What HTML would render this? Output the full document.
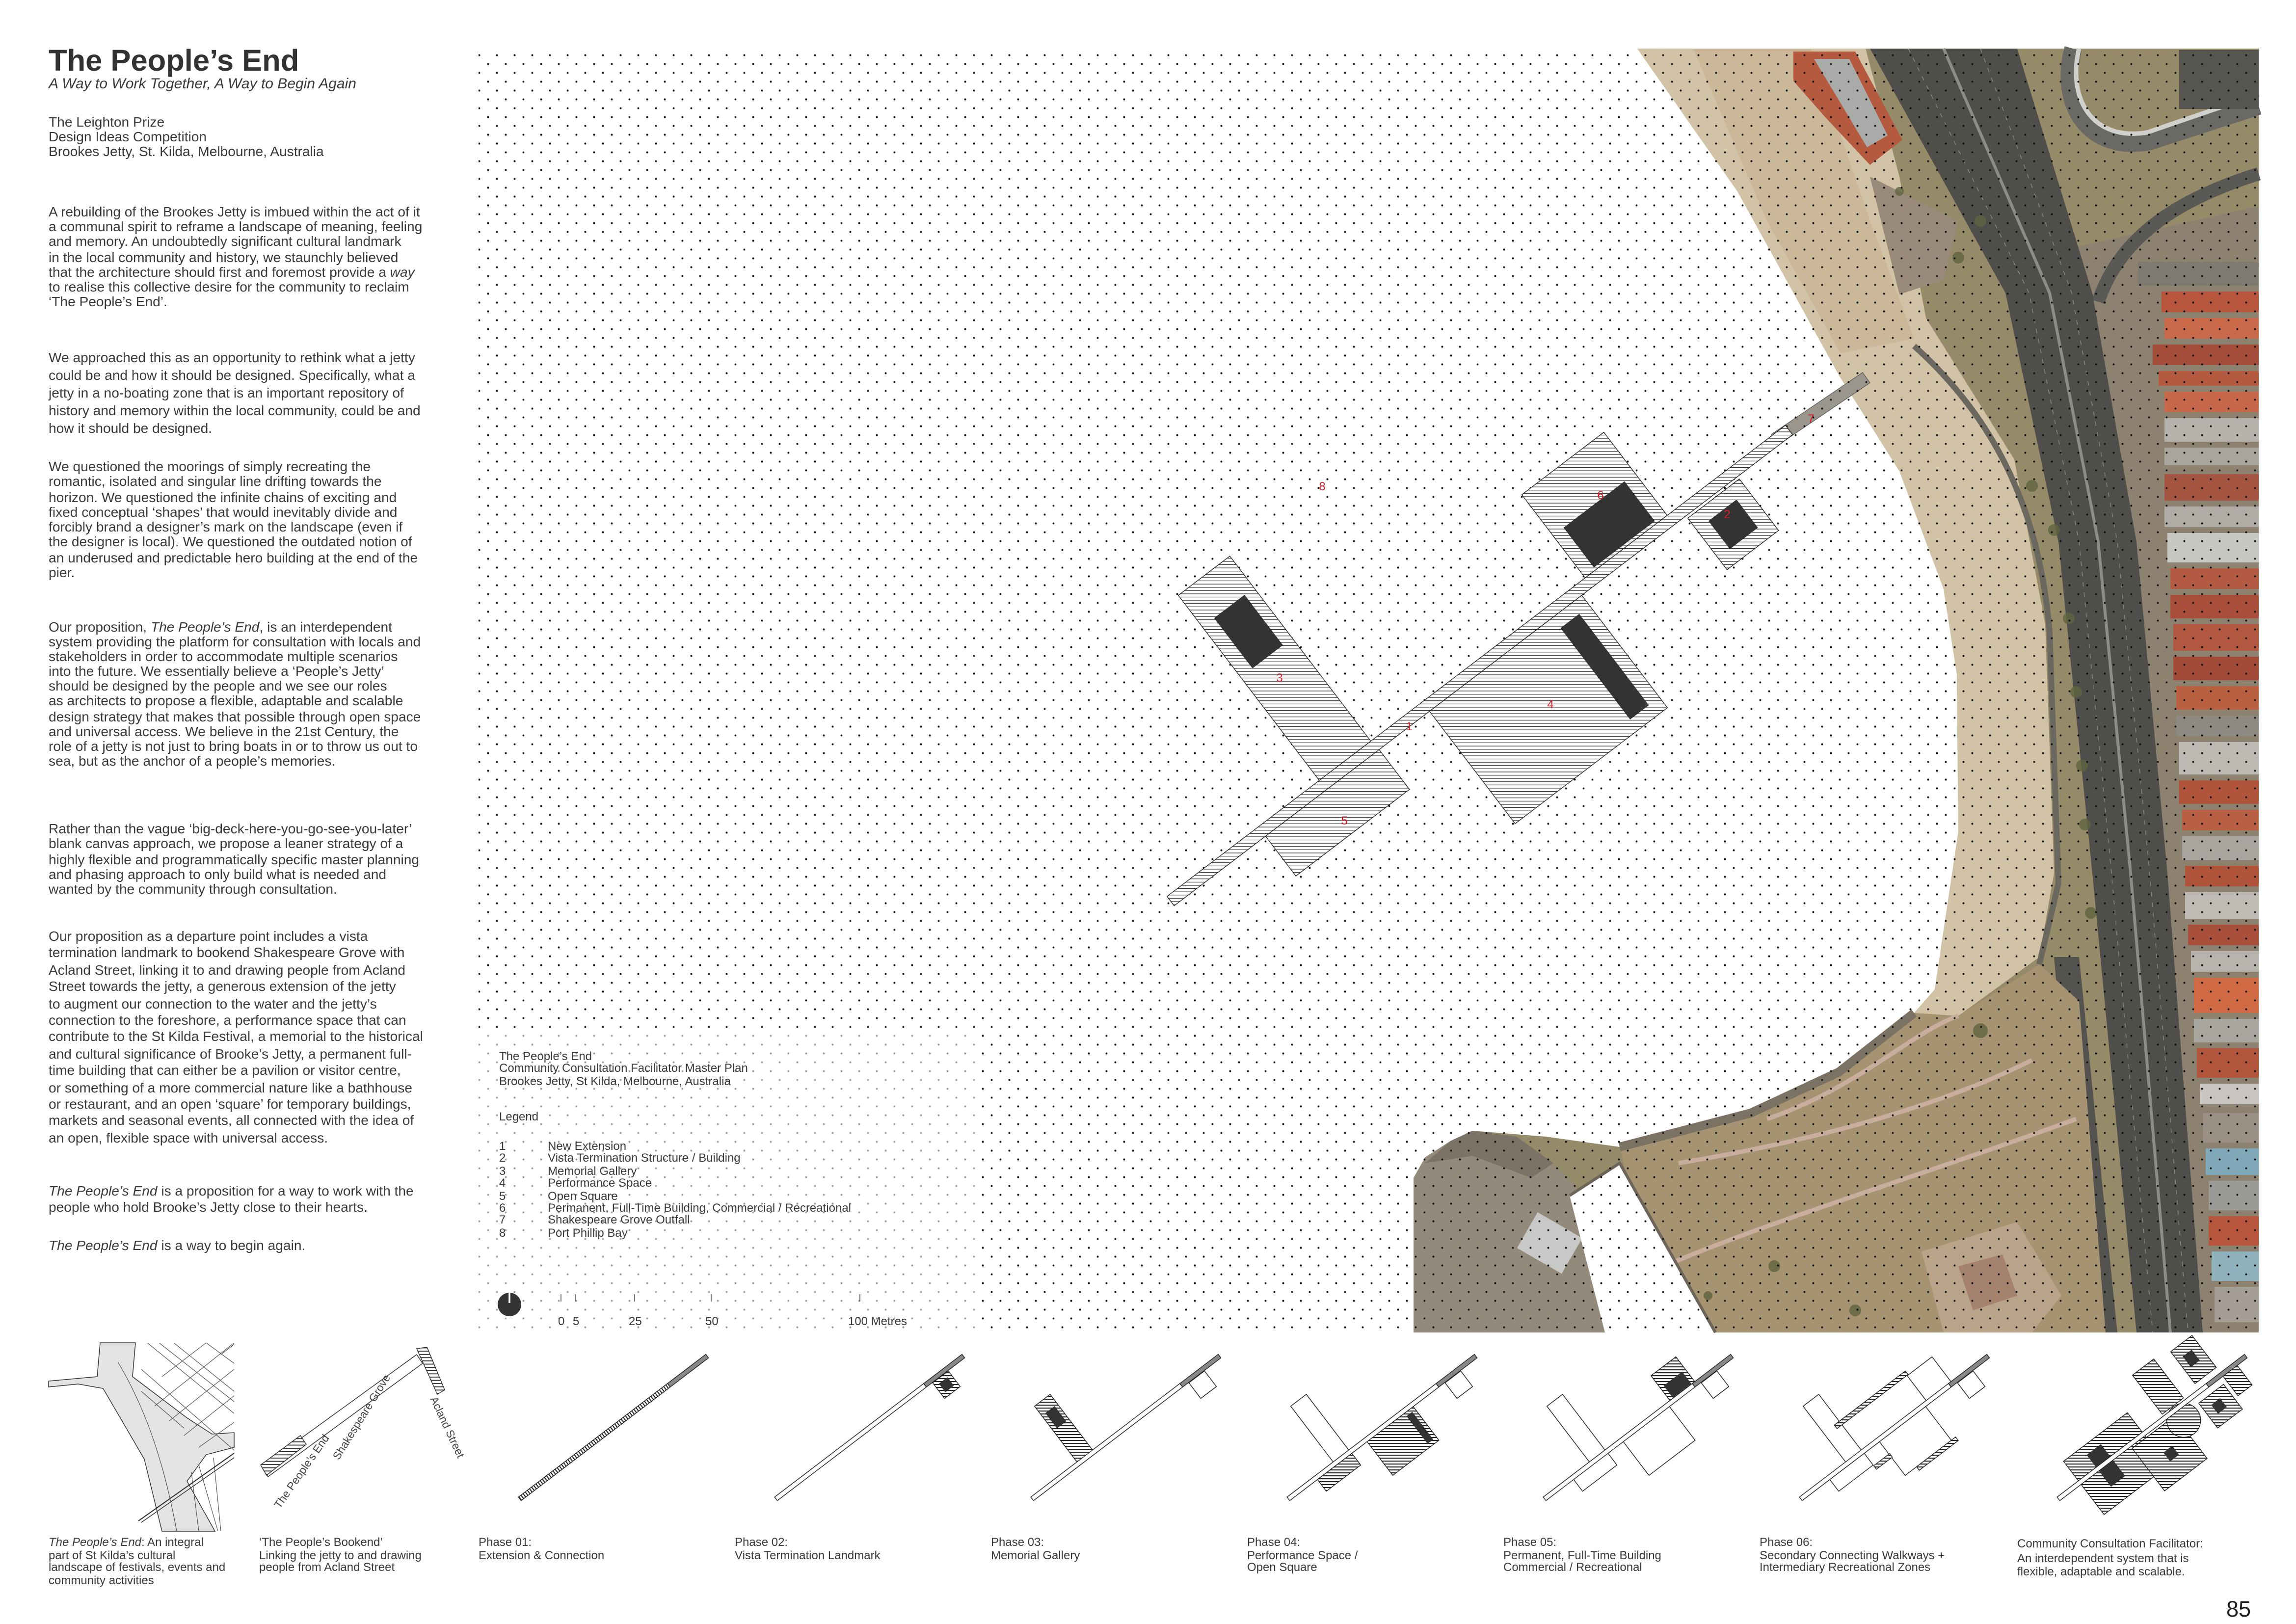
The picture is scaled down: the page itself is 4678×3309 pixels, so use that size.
<!DOCTYPE html>
<html><head><meta charset="utf-8">
<style>
html,body{margin:0;padding:0;background:#fff;}
body{width:4678px;height:3309px;overflow:hidden;}
#s{position:absolute;left:0;top:0;width:1559.33px;height:1103px;transform:scale(3);transform-origin:0 0;font-family:"Liberation Sans",Arial,sans-serif;color:#3a3a3a;}
#s svg{position:absolute;left:0;top:0;}
.t{position:absolute;white-space:nowrap;}
.p{position:absolute;left:33px;font-size:9.4px;white-space:nowrap;color:#3a3a3a;}
.cap{position:absolute;top:1044px;font-size:8px;line-height:8.7px;white-space:nowrap;color:#3a3a3a;}
.lg{position:absolute;font-size:8px;line-height:8.4px;white-space:nowrap;color:#3a3a3a;}
.mp .o{stroke:#222;stroke-width:.45;}
.ph .o{stroke:#222;stroke-width:1.6;}
.mp .hh{fill:url(#h);}
.ph .hh{fill:url(#h2);}
.w{fill:#fff;}
.d{fill:#333;}
</style></head><body>
<div id="s">
<svg width="1559.33" height="1103" viewBox="0 0 1559.33 1103">
<defs>
<pattern id="dots" patternUnits="userSpaceOnUse" width="12" height="12">
<circle cx="1.5" cy="1.5" r="0.65" fill="#111"/><circle cx="7.5" cy="7.5" r="0.65" fill="#111"/>
</pattern>
<pattern id="h" patternUnits="userSpaceOnUse" width="20" height="2.2" patternTransform="rotate(37.3)">
<rect width="20" height="2.2" fill="#fff"/><line x1="0" y1="0.3" x2="20" y2="0.3" stroke="#222" stroke-width="0.4"/>
</pattern>
<pattern id="h2" patternUnits="userSpaceOnUse" width="40" height="6.6" patternTransform="rotate(37.3)">
<rect width="40" height="6.6" fill="#fff"/><line x1="0" y1="1" x2="40" y2="1" stroke="#222" stroke-width="2.6"/>
</pattern>
<pattern id="vh" patternUnits="userSpaceOnUse" width="6" height="10">
<rect width="6" height="10" fill="#fff"/><line x1="1" y1="0" x2="1" y2="10" stroke="#222" stroke-width="2.6"/>
</pattern>
<pattern id="hs" patternUnits="userSpaceOnUse" width="10" height="2.2">
<rect width="10" height="2.2" fill="#fff"/><line x1="0" y1="0.3" x2="10" y2="0.3" stroke="#222" stroke-width="0.6"/>
</pattern>
</defs>

<rect x="325" y="33" width="1209" height="872" fill="#fff"/>

<!-- AERIAL -->
<polygon points="1112,33 1534,33 1534,905 960,905 960,800 968,786 985,775 1000,768 1050,772 1100,779 1189,756 1249,728 1300,688 1314,672 1330,565 1329,458 1320,400 1290,320 1249,255 1180,130" fill="#958b69"/>
<polygon points="1112,33 1267,33 1290,120 1308,216 1368,312 1389,424 1395,593 1385,650 1330,690 1300,688 1314,672 1330,565 1329,458 1320,400 1290,320 1249,255 1180,130" fill="#d3c3a6"/>
<polygon points="1150,33 1230,33 1270,150 1300,230 1250,240 1200,150" fill="#c4b08f" opacity="0.6"/>
<path d="M1300,235 C1350,280 1385,340 1392,430 L1398,600 L1385,655" stroke="#6b6860" stroke-width="4" fill="none"/>
<polygon points="1218,35 1260,35 1292,95 1270,112 1240,80 1218,55" fill="#b65a3f"/>
<polygon points="1232,40 1256,40 1282,92 1268,100" fill="#a9aba9"/>
<polygon points="1270,120 1330,150 1320,190 1290,200 1280,160" fill="#9a8a7a"/>
<polygon points="1400,170 1534,140 1534,905 1496,905" fill="#8d8270"/>
<g>
<rect x="1452" y="178" width="82" height="16" fill="#7f7a6f"/>
<rect x="1468" y="198" width="66" height="14" fill="#b8563d"/>
<rect x="1470" y="216" width="64" height="14" fill="#c96a4b"/>
<rect x="1462" y="234" width="72" height="14" fill="#a44d3a"/>
<rect x="1466" y="252" width="68" height="10" fill="#b45a40"/>
<rect x="1470" y="266" width="64" height="14" fill="#c8684a"/>
<rect x="1470" y="284" width="64" height="16" fill="#b6b2ac"/>
<rect x="1470" y="304" width="64" height="12" fill="#a9a49c"/>
<rect x="1470" y="322" width="64" height="18" fill="#a45541"/>
<rect x="1470" y="344" width="64" height="14" fill="#b0aca5"/>
<rect x="1472" y="362" width="62" height="20" fill="#c9c7c2"/>
<rect x="1474" y="386" width="60" height="14" fill="#b35b42"/>
<rect x="1474" y="404" width="60" height="16" fill="#a84e3a"/>
<rect x="1476" y="424" width="58" height="18" fill="#b25840"/>
<rect x="1476" y="446" width="58" height="16" fill="#a14b38"/>
<rect x="1478" y="466" width="56" height="16" fill="#b8603f"/>
<rect x="1478" y="486" width="56" height="14" fill="#8e8a82"/>
<rect x="1480" y="504" width="54" height="22" fill="#bdbab4"/>
<rect x="1480" y="530" width="54" height="16" fill="#b0553c"/>
<rect x="1482" y="550" width="52" height="14" fill="#b95f44"/>
<rect x="1482" y="568" width="52" height="16" fill="#aaa69f"/>
<rect x="1484" y="588" width="50" height="14" fill="#b0553c"/>
<rect x="1484" y="606" width="50" height="18" fill="#c0bcb5"/>
<rect x="1486" y="628" width="48" height="14" fill="#a9503c"/>
<rect x="1488" y="646" width="46" height="14" fill="#b7b3ad"/>
<rect x="1490" y="664" width="44" height="24" fill="#d06a45"/>
<rect x="1490" y="692" width="44" height="16" fill="#a9a59f"/>
<rect x="1492" y="712" width="42" height="20" fill="#b1553d"/>
<rect x="1494" y="736" width="40" height="14" fill="#c8c5c0"/>
<rect x="1496" y="756" width="38" height="20" fill="#9a9086"/>
<rect x="1498" y="780" width="36" height="18" fill="#7fa9b8"/>
<rect x="1500" y="802" width="34" height="20" fill="#9c9a96"/>
<rect x="1500" y="826" width="34" height="20" fill="#b8553d"/>
<rect x="1502" y="850" width="32" height="20" fill="#8fb2bd"/>
<rect x="1504" y="874" width="30" height="24" fill="#a49e95"/>
</g>
<path d="M1408,33 C1398,70 1418,104 1460,96 L1534,72" stroke="#6a6965" stroke-width="12" fill="none"/>
<path d="M1412,33 C1404,66 1420,96 1458,90 L1534,64" stroke="#d2d0cc" stroke-width="3" fill="none"/>
<path d="M1425,205 C1440,160 1480,135 1534,118" stroke="#5a5956" stroke-width="9" fill="none"/>
<rect x="1480" y="34" width="54" height="40" fill="#57554f"/>
<polygon points="1270,33 1370,33 1421,199 1451,368 1472,593 1496,905 1451,905 1421,593 1398,368 1362,199" fill="#4f4e4b"/>
<path d="M1320,33 L1392,199 L1425,368 L1447,593 L1474,905" stroke="#8e8c86" stroke-width="2" fill="none"/>
<path d="M1296,33 L1378,199 L1412,368 L1434,593 L1462,905 M1345,33 L1407,199 L1438,368 L1460,593 L1486,905" stroke="#888" stroke-width="0.5" stroke-dasharray="3 4" fill="none"/>
<polygon points="1395,650 1412,650 1438,905 1418,905" fill="#55534f"/>
<polygon points="1100,779 1189,756 1249,728 1300,688 1330,690 1385,655 1412,680 1430,905 1130,905" fill="#a59372"/>
<path d="M1200,760 C1260,740 1300,700 1330,690 M1140,790 C1200,780 1300,760 1380,720 M1130,860 C1200,830 1300,800 1410,760" stroke="#c9ad9d" stroke-width="3" fill="none"/>
<polygon points="1305,850 1370,830 1400,880 1380,905 1320,905" fill="#b9a48a"/>
<polygon points="1330,860 1360,852 1370,880 1340,890" fill="#a5826e"/>
<path d="M1100,779 L1189,756 L1249,728 L1300,688" stroke="#7b7264" stroke-width="6" fill="none"/>
<polygon points="960,905 960,800 968,786 985,775 1000,768 1030,772 1065,800 1100,840 1130,905" fill="#938a7b"/>
<polygon points="968,790 985,775 1000,768 1030,772 1055,790 1040,800 1000,785" fill="#7b7366"/>
<rect x="1035" y="830" width="35" height="28" fill="#c8c8c6" transform="rotate(30 1052 844)"/>
<polygon points="1066,812 1100,790 1165,905 1090,905" fill="#fff"/>
<path d="M1066,812 L1100,790 L1165,905" stroke="#6d655a" stroke-width="2" fill="none"/>
<g fill="#5f6440" opacity="0.8">
<circle cx="1380" cy="330" r="4"/><circle cx="1395" cy="360" r="4"/><circle cx="1405" cy="420" r="4"/><circle cx="1410" cy="470" r="4"/><circle cx="1414" cy="520" r="4"/><circle cx="1416" cy="560" r="4"/><circle cx="1420" cy="620" r="4"/><circle cx="1330" cy="175" r="4"/><circle cx="1345" cy="150" r="4"/><circle cx="1290" cy="130" r="3"/><circle cx="1205" cy="860" r="4"/><circle cx="1260" cy="890" r="4"/><circle cx="1160" cy="880" r="3"/><circle cx="1345" cy="700" r="5"/>
</g>
<polygon points="1203,295 1265,253 1270,260 1208,302" fill="#9b968c" stroke="#555" stroke-width="0.4"/>

<rect x="325" y="33" width="1209" height="872" fill="url(#dots)"/>
<!-- fade dots in legend area -->
<rect x="325" y="700" width="340" height="205" fill="#fff" opacity="0.6"/>

<!-- MAIN PLAN -->
<g class="mp" transform="translate(795,612) rotate(-37.3)">
<rect class="hh o" x="130" y="-162" width="44" height="158"/>
<rect class="d" x="140" y="-135" width="26" height="43"/>
<rect class="hh o" x="78" y="4" width="97" height="34"/>
<rect class="hh o" x="218" y="4" width="130" height="96"/>
<rect class="d" x="323" y="13" width="16" height="78"/>
<rect class="hh o" x="357" y="-75" width="70" height="71"/>
<rect class="d" x="366" y="-40" width="52" height="34"/>
<rect class="hh o" x="437" y="6" width="44" height="44"/>
<rect class="d" x="447" y="16" width="24" height="24"/>
<rect class="hh o" x="0" y="-4" width="528" height="8"/>
</g>
<g font-family="Liberation Sans,sans-serif" font-size="8" fill="#d0202a" text-anchor="middle">
<text x="957" y="496">1</text><text x="1173" y="352">2</text><text x="869" y="463">3</text><text x="1053" y="481">4</text><text x="913" y="560">5</text><text x="1087" y="339">6</text><text x="1230" y="287">7</text><text x="898" y="333">8</text>
</g>

<circle cx="346" cy="886" r="8" fill="#333"/>
<rect x="345.4" y="877" width="1.2" height="8" fill="#fff"/>
<g stroke="#444" stroke-width="0.5">
<line x1="381" y1="879" x2="381" y2="884"/><line x1="391" y1="879" x2="391" y2="884"/><line x1="431" y1="879" x2="431" y2="884"/><line x1="483" y1="879" x2="483" y2="884"/><line x1="584" y1="879" x2="584" y2="884"/>
</g>
<g font-family="Liberation Sans,sans-serif" font-size="8" fill="#3a3a3a">
<text x="379" y="900">0</text><text x="389" y="900">5</text><text x="427" y="900">25</text><text x="479" y="900">50</text><text x="576" y="900">100 Metres</text>
</g>

<!-- PANEL 1 -->
<g>
<polygon points="68,912 92,912 90,935 127,963 144,974 159,973 159,983 140,988 127,1006 146,1040 110,1040 98,991 70,943 53,940 33,942 33,938 66,935" fill="#e4e4e4" stroke="#333" stroke-width="0.5"/>
<g stroke="#555" stroke-width="0.4" fill="none">
<path d="M100,912 L159,960 M108,912 L159,952 M96,930 L159,985 M118,912 L159,945 M140,912 L159,926 M96,945 L125,970"/>
<path d="M110,935 L140,912 M105,955 L159,912 M115,965 L159,930 M125,975 L159,948 M135,983 L159,966 M150,920 L159,913"/>
<path d="M130,1000 L135,1040 M135,995 L148,1040 M145,990 L150,1040"/>
<path d="M80,925 C95,950 110,985 120,1040"/>
</g>
<line x1="94" y1="1033" x2="159" y2="987" stroke="#333" stroke-width="0.7"/>
<line x1="96" y1="1034" x2="159" y2="990" stroke="#333" stroke-width="0.5"/>
</g>
<!-- PANEL 2 -->
<g>
<polygon points="178,996 283,920 287,926 182,1003" fill="#fff" stroke="#333" stroke-width="0.5"/>
<polygon points="177,995 204,975 208,981 181,1002" fill="url(#hs)" stroke="#333" stroke-width="0.5"/>
<polygon points="283,916 290,915 302,944 297,947" fill="url(#hs)" stroke="#333" stroke-width="0.5"/>
<text x="0" y="0" font-size="7.5" fill="#444" transform="translate(190,1025) rotate(-55)">The People’s End</text>
<text x="0" y="0" font-size="7.5" fill="#444" transform="translate(230,992) rotate(-58)">Shakespeare Grove</text>
<text x="0" y="0" font-size="7.5" fill="#444" transform="translate(292,950) rotate(65)">Acland Street</text>
</g>

<!-- PHASES -->
<g class="ph" transform="translate(353,1018) scale(0.303) rotate(-37.3)">
<rect x="0" y="-5" width="420" height="10" fill="url(#vh)" stroke="#222" stroke-width="1.6"/>
<rect class="o" x="420" y="-5" width="108" height="10" fill="#888"/>
</g>
<g class="ph" transform="translate(527,1018) scale(0.303) rotate(-37.3)">
<rect class="hh o" x="437" y="6" width="44" height="44"/>
<rect class="d" x="447" y="16" width="24" height="24"/>
<rect class="w o" x="0" y="-5" width="420" height="10"/>
<rect class="o" x="420" y="-5" width="108" height="10" fill="#888"/>
</g>
<g class="ph" transform="translate(701,1018) scale(0.303) rotate(-37.3)">
<rect class="hh o" x="130" y="-162" width="44" height="158"/>
<rect class="d" x="140" y="-135" width="26" height="43"/>
<rect class="w o" x="437" y="6" width="44" height="44"/>
<rect class="w o" x="0" y="-5" width="420" height="10"/>
<rect class="o" x="420" y="-5" width="108" height="10" fill="#888"/>
</g>
<g class="ph" transform="translate(875,1018) scale(0.303) rotate(-37.3)">
<rect class="w o" x="130" y="-162" width="44" height="158"/>
<rect class="hh o" x="78" y="4" width="97" height="34"/>
<rect class="hh o" x="218" y="4" width="130" height="96"/>
<rect class="d" x="323" y="13" width="16" height="78"/>
<rect class="w o" x="437" y="6" width="44" height="44"/>
<rect class="w o" x="0" y="-5" width="420" height="10"/>
<rect class="o" x="420" y="-5" width="108" height="10" fill="#888"/>
</g>
<g class="ph" transform="translate(1049,1018) scale(0.303) rotate(-37.3)">
<rect class="w o" x="130" y="-162" width="44" height="158"/>
<rect class="w o" x="78" y="4" width="97" height="34"/>
<rect class="w o" x="218" y="4" width="130" height="96"/>
<rect class="hh o" x="357" y="-75" width="70" height="71"/>
<rect class="d" x="366" y="-40" width="52" height="34"/>
<rect class="w o" x="437" y="6" width="44" height="44"/>
<rect class="w o" x="0" y="-5" width="420" height="10"/>
<rect class="o" x="420" y="-5" width="108" height="10" fill="#888"/>
</g>
<g class="ph" transform="translate(1223,1018) scale(0.303) rotate(-37.3)">
<rect class="w o" x="130" y="-162" width="44" height="158"/>
<rect class="w o" x="78" y="4" width="97" height="34"/>
<rect class="w o" x="218" y="4" width="130" height="96"/>
<rect class="w o" x="357" y="-75" width="70" height="71"/>
<rect class="w o" x="437" y="6" width="44" height="44"/>
<rect class="hh o" x="160" y="-86" width="200" height="10"/>
<rect class="hh o" x="175" y="40" width="45" height="10"/>
<rect class="hh o" x="250" y="100" width="110" height="10"/>
<rect class="w o" x="0" y="-5" width="420" height="10"/>
<rect class="o" x="420" y="-5" width="108" height="10" fill="#888"/>
</g>
<g class="ph" transform="translate(1398,1018) scale(0.303) rotate(-37.3)">
<rect class="hh o" x="60" y="-60" width="180" height="150"/>
<rect class="d" x="110" y="-40" width="40" height="90"/>
<rect class="hh o" x="200" y="10" width="120" height="120"/>
<rect class="d" x="250" y="60" width="25" height="25"/>
<rect class="hh o" x="300" y="-120" width="60" height="110"/>
<circle class="hh o" cx="330" cy="30" r="38"/>
<rect class="hh o" x="400" y="-110" width="60" height="90"/>
<rect class="d" x="415" y="-85" width="25" height="30"/>
<rect class="hh o" x="380" y="20" width="70" height="70"/>
<rect class="d" x="400" y="40" width="25" height="25"/>
<rect class="hh o" x="460" y="0" width="40" height="60"/>
<rect class="w o" x="0" y="-5" width="420" height="10"/>
<rect class="o" x="420" y="-5" width="108" height="10" fill="#888"/>
</g>
</svg>

<div class="t" style="left:33px;top:30px;font-size:20.5px;font-weight:bold;color:#333;">The People’s End</div>
<div class="t" style="left:33px;top:52px;font-size:10px;font-style:italic;color:#3a3a3a;">A Way to Work Together, A Way to Begin Again</div>
<div class="p" style="top:78px;line-height:10px;">The Leighton Prize<br>Design Ideas Competition<br>Brookes Jetty, St. Kilda, Melbourne, Australia</div>
<div class="p" style="top:139px;line-height:10.2px;">A rebuilding of the Brookes Jetty is imbued within the act of it<br>a communal spirit to reframe a landscape of meaning, feeling<br>and memory. An undoubtedly significant cultural landmark<br>in the local community and history, we staunchly believed<br>that the architecture should first and foremost provide a <i>way</i><br>to realise this collective desire for the community to reclaim<br>‘The People’s End’.</div>
<div class="p" style="top:237px;line-height:12px;">We approached this as an opportunity to rethink what a jetty<br>could be and how it should be designed. Specifically, what a<br>jetty in a no-boating zone that is an important repository of<br>history and memory within the local community, could be and<br>how it should be designed.</div>
<div class="p" style="top:312px;line-height:10.3px;">We questioned the moorings of simply recreating the<br>romantic, isolated and singular line drifting towards the<br>horizon. We questioned the infinite chains of exciting and<br>fixed conceptual ‘shapes’ that would inevitably divide and<br>forcibly brand a designer’s mark on the landscape (even if<br>the designer is local). We questioned the outdated notion of<br>an underused and predictable hero building at the end of the<br>pier.</div>
<div class="p" style="top:421px;line-height:10.1px;">Our proposition, <i>The People’s End</i>, is an interdependent<br>system providing the platform for consultation with locals and<br>stakeholders in order to accommodate multiple scenarios<br>into the future. We essentially believe a ‘People’s Jetty’<br>should be designed by the people and we see our roles<br>as architects to propose a flexible, adaptable and scalable<br>design strategy that makes that possible through open space<br>and universal access. We believe in the 21st Century, the<br>role of a jetty is not just to bring boats in or to throw us out to<br>sea, but as the anchor of a people’s memories.</div>
<div class="p" style="top:558px;line-height:10.25px;">Rather than the vague ‘big-deck-here-you-go-see-you-later’<br>blank canvas approach, we propose a leaner strategy of a<br>highly flexible and programmatically specific master planning<br>and phasing approach to only build what is needed and<br>wanted by the community through consultation.</div>
<div class="p" style="top:630px;line-height:11.4px;">Our proposition as a departure point includes a vista<br>termination landmark to bookend Shakespeare Grove with<br>Acland Street, linking it to and drawing people from Acland<br>Street towards the jetty, a generous extension of the jetty<br>to augment our connection to the water and the jetty’s<br>connection to the foreshore, a performance space that can<br>contribute to the St Kilda Festival, a memorial to the historical<br>and cultural significance of Brooke’s Jetty, a permanent full-<br>time building that can either be a pavilion or visitor centre,<br>or something of a more commercial nature like a bathhouse<br>or restaurant, and an open ‘square’ for temporary buildings,<br>markets and seasonal events, all connected with the idea of<br>an open, flexible space with universal access.</div>
<div class="p" style="top:803px;line-height:11px;"><i>The People’s End</i> is a proposition for a way to work with the<br>people who hold Brooke’s Jetty close to their hearts.</div>
<div class="p" style="top:840px;line-height:11px;"><i>The People’s End</i> is a way to begin again.</div>

<div class="lg" style="left:339px;top:714px;">The People’s End<br>Community Consultation Facilitator Master Plan<br>Brookes Jetty, St Kilda, Melbourne, Australia</div>
<div class="lg" style="left:339px;top:755px;">Legend</div>
<div class="lg" style="left:339px;top:775px;">1<br>2<br>3<br>4<br>5<br>6<br>7<br>8</div>
<div class="lg" style="left:372px;top:775px;">New Extension<br>Vista Termination Structure / Building<br>Memorial Gallery<br>Performance Space<br>Open Square<br>Permanent, Full-Time Building, Commercial / Recreational<br>Shakespeare Grove Outfall<br>Port Phillip Bay</div>

<div class="cap" style="left:33px;"><i>The People’s End</i>: An integral<br>part of St Kilda’s cultural<br>landscape of festivals, events and<br>community activities</div>
<div class="cap" style="left:176px;">‘The People’s Bookend’<br>Linking the jetty to and drawing<br>people from Acland Street</div>
<div class="cap" style="left:325px;">Phase 01:<br>Extension &amp; Connection</div>
<div class="cap" style="left:499px;">Phase 02:<br>Vista Termination Landmark</div>
<div class="cap" style="left:673px;">Phase 03:<br>Memorial Gallery</div>
<div class="cap" style="left:847px;">Phase 04:<br>Performance Space /<br>Open Square</div>
<div class="cap" style="left:1021px;">Phase 05:<br>Permanent, Full-Time Building<br>Commercial / Recreational</div>
<div class="cap" style="left:1195px;">Phase 06:<br>Secondary Connecting Walkways +<br>Intermediary Recreational Zones</div>
<div class="cap" style="left:1370px;line-height:9.5px;">Community Consultation Facilitator:<br>An interdependent system that is<br>flexible, adaptable and scalable.</div>

<div class="t" style="left:1512px;top:1085px;font-size:15px;color:#222;">85</div>
</div>
</body></html>
